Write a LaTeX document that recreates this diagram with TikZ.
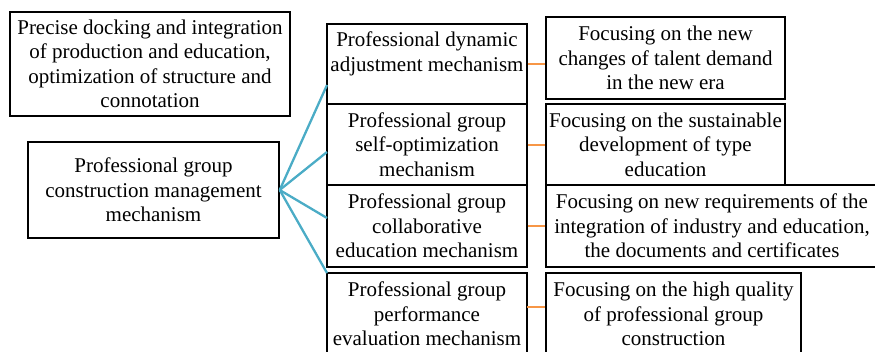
\documentclass[tikz,border=0pt]{standalone}
\usepackage{fontspec}
\setmainfont{LiberationSerif}[Extension=.ttf,UprightFont=*-Regular,BoldFont=*-Bold,ItalicFont=*-Italic]
\definecolor{black}{RGB}{0,0,0}
\definecolor{line_blue}{RGB}{75,172,198}
\definecolor{line_orange}{RGB}{247,150,70}
\tikzset{box/.style={rectangle,draw=black,line width=1.4pt,align=center,inner sep=2pt,font=\fontsize{21}{24.5}\selectfont}}

\begin{document}
\begin{tikzpicture}[x=1pt,y=-1pt]
	\path[use as bounding box,clip] (0,0) rectangle (875,351);

	\node[box,minimum width=280pt,minimum height=104pt] (goal) at (150,64) {Precise docking and integration\\of production and education,\\optimization of structure and\\connotation};
	\node[box,minimum width=251pt,minimum height=96pt] (root) at (153.5,190) {Professional group\\construction management\\mechanism};

	\node[box,minimum width=200pt,minimum height=80pt] (m1) at (427,64) {Professional dynamic\\adjustment mechanism\\\mbox{}};
	\node[box,minimum width=200pt,minimum height=81pt] (m2) at (427,144.5) {Professional group\\self-optimization\\mechanism};
	\node[box,minimum width=200pt,minimum height=82pt] (m3) at (427,226) {Professional group\\collaborative\\education mechanism};
	\node[box,minimum width=200pt,minimum height=82pt] (m4) at (427,314) {Professional group\\performance\\evaluation mechanism};

	\node[box,minimum width=239pt,minimum height=82pt] (f1) at (665.5,58) {Focusing on the new\\changes of talent demand\\in the new era};
	\node[box,minimum width=239pt,minimum height=81pt] (f2) at (665.5,144.5) {Focusing on the sustainable\\development of type\\education};
	\node[box,minimum width=332pt,minimum height=82pt] (f3) at (712,226) {Focusing on new requirements of the\\integration of industry and education,\\the documents and certificates};
	\node[box,minimum width=255pt,minimum height=82pt] (f4) at (673.5,314) {Focusing on the high quality\\of professional group\\construction};

	% ends of the fan on the left sides
	\coordinate (t1) at (327,85);
	\coordinate (t2) at (327,152);
	\coordinate (t3) at (327,218);
	\coordinate (t4) at (327,273);
	% start of the last orange link
	\coordinate (s4) at (527,307);

	\foreach \x in {t1,t2,t3,t4}
		\draw[line_blue,line width=2.3pt] (root.east) -- (\x);
	\foreach \x/\y in {m1.east/f1,m2.east/f2,m3.east/f3,s4/f4}
		\draw[line_orange,line width=2pt] (\x) -- (\x -| \y.west);
\end{tikzpicture}
\end{document}
